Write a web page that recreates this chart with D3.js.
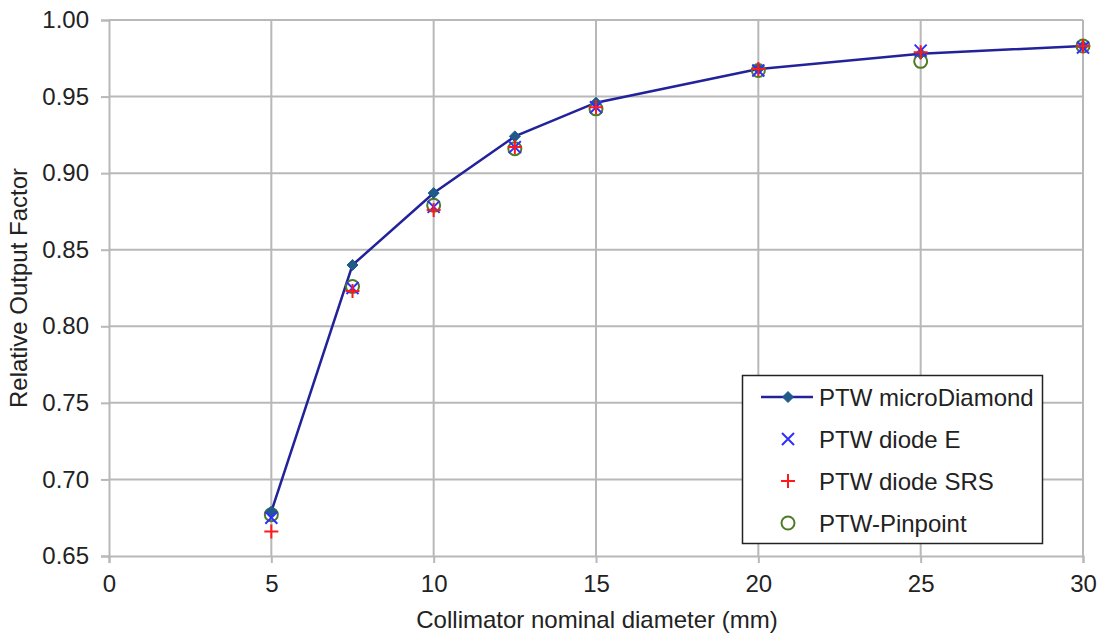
<!DOCTYPE html>
<html>
<head>
<meta charset="utf-8">
<script src="https://cdn.jsdelivr.net/npm/d3@7"></script>
<style>
  html, body { margin: 0; padding: 0; background: #fff; }
  svg text { font-family: "Liberation Sans", Arial, sans-serif; fill: #222; }
</style>
</head>
<body>
<svg id="chart" width="1104" height="637"></svg>
<script>
// Collimator nominal diameter (mm)
const diameters = [5, 7.5, 10, 12.5, 15, 20, 25, 30];

// Relative output factor per detector
const microDiamond = [0.679, 0.840, 0.887, 0.924, 0.946, 0.968, 0.978, 0.983];
const diodeE       = [0.675, 0.825, 0.878, 0.917, 0.943, 0.967, 0.980, 0.982];
const diodeSRS     = [0.666, 0.823, 0.876, 0.917, 0.943, 0.968, 0.979, 0.983];
const pinpoint     = [0.677, 0.826, 0.879, 0.916, 0.942, 0.967, 0.973, 0.983];

const xTicks = [0, 5, 10, 15, 20, 25, 30];
const yTicks = [0.65, 0.70, 0.75, 0.80, 0.85, 0.90, 0.95, 1.00];

const seriesNames = ["PTW microDiamond", "PTW diode E", "PTW diode SRS", "PTW-Pinpoint"];

const svg = d3.select("#chart");
const m = { left: 109, right: 1083, top: 20, bottom: 556 };
const fontSize = 24;

const x = d3.scaleLinear().domain([0, 30]).range([m.left, m.right]);
const y = d3.scaleLinear().domain([0.65, 1.00]).range([m.bottom, m.top]);

const gridColor = "#b8b8b8";

// grid lines
const grid = svg.append("g");
grid.selectAll("line.v").data(xTicks.slice(1)).join("line")
  .attr("x1", d => x(d)).attr("x2", d => x(d))
  .attr("y1", m.top).attr("y2", m.bottom)
  .attr("stroke", gridColor).attr("stroke-width", 2);
grid.selectAll("line.h").data(yTicks.slice(1)).join("line")
  .attr("x1", m.left).attr("x2", m.right)
  .attr("y1", d => y(d)).attr("y2", d => y(d))
  .attr("stroke", gridColor).attr("stroke-width", 2);

// axes
const xAxis = svg.append("g")
  .attr("transform", `translate(0,${m.bottom})`)
  .call(d3.axisBottom(x).tickValues(xTicks).tickFormat(d3.format("d")).tickSize(7).tickPadding(12));
const yAxis = svg.append("g")
  .attr("transform", `translate(${m.left},0)`)
  .call(d3.axisLeft(y).tickValues(yTicks).tickFormat(d3.format(".2f")).tickSize(8).tickPadding(12));

[xAxis, yAxis].forEach(a => {
  a.select(".domain").attr("stroke", gridColor).attr("stroke-width", 2);
  a.selectAll(".tick line").attr("stroke", gridColor).attr("stroke-width", 2);
  a.selectAll(".tick text").attr("font-size", fontSize).attr("fill", "#222")
    .attr("font-family", "Liberation Sans, Arial, sans-serif");
});

// axis titles
svg.append("text")
  .attr("x", (m.left + m.right) / 2 + 1).attr("y", 628)
  .attr("text-anchor", "middle").attr("font-size", fontSize)
  .text("Collimator nominal diameter (mm)");
svg.append("text")
  .attr("transform", `translate(27,${(m.top + m.bottom) / 2}) rotate(-90)`)
  .attr("text-anchor", "middle").attr("font-size", fontSize)
  .text("Relative Output Factor");

// marker helpers
const colors = {
  line: "#22229a",
  diamond: "#1f5a8a",
  cross: "#2f2fff",
  plus: "#ff1a1a",
  circle: "#4f7a26"
};

function drawDiamond(g, cx, cy) {
  const s = 5.5;
  g.append("path")
    .attr("d", `M${cx},${cy - s}L${cx + s},${cy}L${cx},${cy + s}L${cx - s},${cy}Z`)
    .attr("fill", colors.diamond).attr("stroke", colors.diamond).attr("stroke-width", 1);
}
function drawCross(g, cx, cy) {
  const s = 6;
  g.append("path")
    .attr("d", `M${cx - s},${cy - s}L${cx + s},${cy + s}M${cx - s},${cy + s}L${cx + s},${cy - s}`)
    .attr("stroke", colors.cross).attr("stroke-width", 2).attr("fill", "none");
}
function drawPlus(g, cx, cy) {
  const s = 7;
  g.append("path")
    .attr("d", `M${cx - s},${cy}L${cx + s},${cy}M${cx},${cy - s}L${cx},${cy + s}`)
    .attr("stroke", colors.plus).attr("stroke-width", 2).attr("fill", "none");
}
function drawCircle(g, cx, cy) {
  g.append("circle").attr("cx", cx).attr("cy", cy).attr("r", 6.5)
    .attr("fill", "none").attr("stroke", colors.circle).attr("stroke-width", 2);
}

const marks = svg.append("g");

// microDiamond connected line
const line = d3.line().x(d => x(d[0])).y(d => y(d[1]));
marks.append("path")
  .datum(diameters.map((d, i) => [d, microDiamond[i]]))
  .attr("d", line).attr("fill", "none")
  .attr("stroke", colors.line).attr("stroke-width", 2.5);

diameters.forEach((d, i) => drawCircle(marks, x(d), y(pinpoint[i])));
diameters.forEach((d, i) => drawDiamond(marks, x(d), y(microDiamond[i])));
diameters.forEach((d, i) => drawCross(marks, x(d), y(diodeE[i])));
diameters.forEach((d, i) => drawPlus(marks, x(d), y(diodeSRS[i])));

// legend
const lg = svg.append("g");
lg.append("rect").attr("x", 742.5).attr("y", 375.5).attr("width", 300).attr("height", 168)
  .attr("fill", "#fff").attr("stroke", "#222").attr("stroke-width", 1.5);

const rowY = [397, 439, 481, 523];
const symX = 788;
lg.append("line").attr("x1", 761).attr("x2", 813).attr("y1", rowY[0]).attr("y2", rowY[0])
  .attr("stroke", colors.line).attr("stroke-width", 2.5);
drawDiamond(lg, symX, rowY[0]);
drawCross(lg, symX, rowY[1]);
drawPlus(lg, symX, rowY[2]);
drawCircle(lg, symX, rowY[3]);

seriesNames.forEach((name, i) => {
  lg.append("text").attr("x", 819).attr("y", rowY[i]).attr("dy", "0.36em")
    .attr("font-size", fontSize).text(name);
});
</script>
</body>
</html>
